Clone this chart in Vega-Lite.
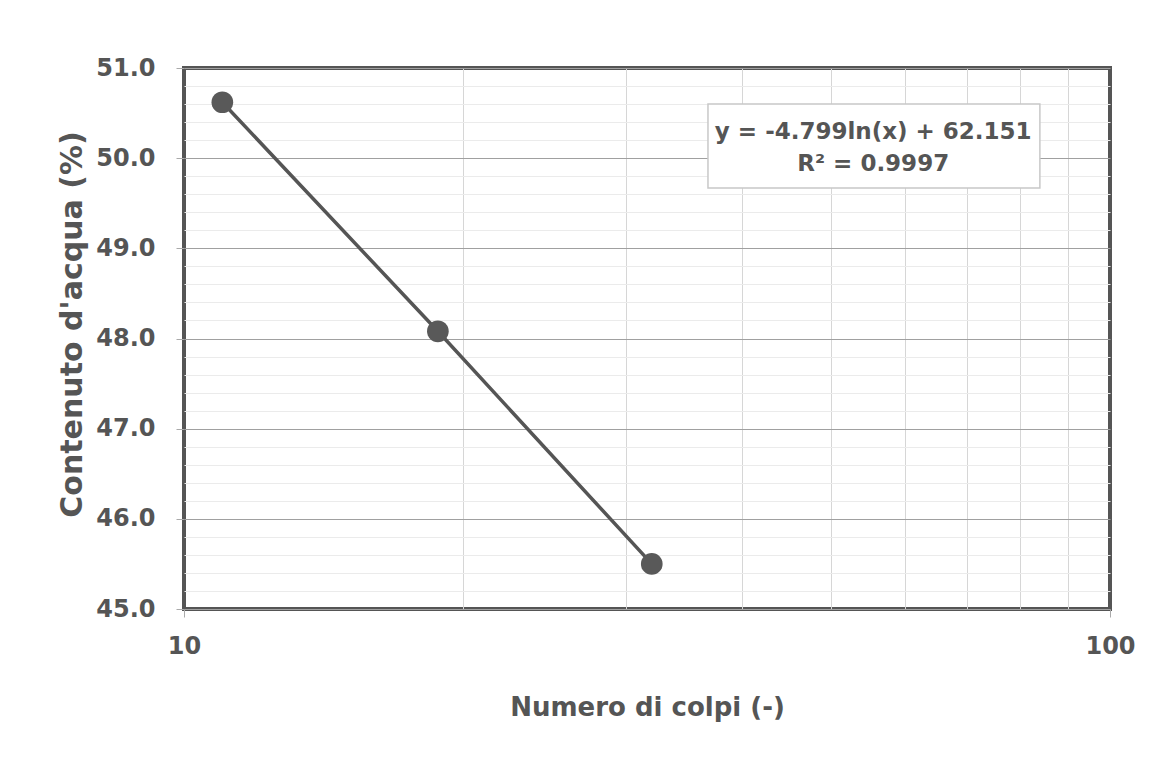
{
  "$schema": "https://vega.github.io/schema/vega-lite/v6.json",
  "autosize": {"type": "none"},
  "width": 926,
  "height": 541,
  "padding": {"left": 184, "top": 68, "right": 53, "bottom": 154},
  "background": "white",
  "config": {
    "view": {"stroke": "#555555", "strokeWidth": 4},
    "font": "DejaVu Sans",
    "axis": {
      "labelFont": "DejaVu Sans",
      "labelFontWeight": "bold",
      "labelFontSize": 24,
      "labelColor": "#555555",
      "titleFont": "DejaVu Sans",
      "titleFontWeight": "bold",
      "titleColor": "#555555",
      "domain": false,
      "labelOverlap": false,
      "labelFlush": false
    }
  },
  "datasets": {
    "pts": [
      {"colpi": 11.0, "acqua": 50.62},
      {"colpi": 18.8, "acqua": 48.08},
      {"colpi": 32.0, "acqua": 45.50}
    ],
    "box": [
      {"x1": 36.8, "x2": 84.0, "y1": 50.6, "y2": 49.67}
    ],
    "labels": [
      {"x": 55.5, "y": 50.29, "t": "y = -4.799ln(x) + 62.151"},
      {"x": 55.5, "y": 49.93, "t": "R² = 0.9997"}
    ]
  },
  "layer": [
    {
      "data": {"name": "pts"},
      "mark": {"type": "line", "color": "#555555", "strokeWidth": 3.5},
      "encoding": {
        "x": {
          "field": "colpi", "type": "quantitative",
          "scale": {"type": "log", "domain": [10, 100], "nice": false},
          "axis": {
            "title": "Numero di colpi (-)",
            "titleFontSize": 26,
            "values": [10, 20, 30, 40, 50, 60, 70, 80, 90, 100],
            "tickCount": 50,
            "labelExpr": "datum.value == 10 || datum.value == 100 ? datum.label : ''",
            "labelAlign": "center",
            "labelOverlap": false,
            "grid": true,
            "gridColor": {"condition": {"test": "datum.value == 10 || datum.value == 100", "value": "transparent"}, "value": "#d6d6d6"},
            "gridWidth": 1,
            "ticks": true,
            "tickSize": 8,
            "tickColor": {"condition": {"test": "datum.value == 10 || datum.value == 100", "value": "#aaaaaa"}, "value": "transparent"},
            "labelPadding": 17,
            "titlePadding": 36
          }
        },
        "y": {
          "field": "acqua", "type": "quantitative",
          "scale": {"domain": [45, 51], "nice": false, "zero": false},
          "axis": {
            "title": "Contenuto d'acqua (%)",
            "titleFontSize": 30,
            "titleY": 256,
            "values": [45, 45.2, 45.4, 45.6, 45.8, 46, 46.2, 46.4, 46.6, 46.8, 47, 47.2, 47.4, 47.6, 47.8, 48, 48.2, 48.4, 48.6, 48.8, 49, 49.2, 49.4, 49.6, 49.8, 50, 50.2, 50.4, 50.6, 50.8, 51],
            "tickCount": 100,
            "labelExpr": "abs(datum.value - round(datum.value)) < 0.01 ? format(datum.value, '.1f') : ''",
            "labelOverlap": false,
            "grid": true,
            "gridColor": {"condition": {"test": "abs(datum.value - round(datum.value)) < 0.01", "value": "#a0a0a0"}, "value": "#ebebeb"},
            "gridWidth": 1,
            "tickSize": 8,
            "tickColor": {"condition": {"test": "abs(datum.value - round(datum.value)) < 0.01", "value": "#aaaaaa"}, "value": "transparent"},
            "labelPadding": 21,
            "titlePadding": 8
          }
        }
      }
    },
    {
      "data": {"name": "pts"},
      "mark": {"type": "point", "shape": "circle", "filled": true, "color": "#595959", "size": 470, "opacity": 1},
      "encoding": {
        "x": {"field": "colpi", "type": "quantitative"},
        "y": {"field": "acqua", "type": "quantitative"}
      }
    },
    {
      "data": {"name": "box"},
      "mark": {"type": "rect", "fill": "white", "stroke": "#c8c8c8", "strokeWidth": 1.5},
      "encoding": {
        "x": {"field": "x1", "type": "quantitative"},
        "x2": {"field": "x2"},
        "y": {"field": "y1", "type": "quantitative"},
        "y2": {"field": "y2"}
      }
    },
    {
      "data": {"name": "labels"},
      "mark": {"type": "text", "font": "DejaVu Sans", "fontWeight": "bold", "fontSize": 23, "color": "#555555", "align": "center", "baseline": "middle"},
      "encoding": {
        "x": {"field": "x", "type": "quantitative"},
        "y": {"field": "y", "type": "quantitative"},
        "text": {"field": "t"}
      }
    }
  ]
}
